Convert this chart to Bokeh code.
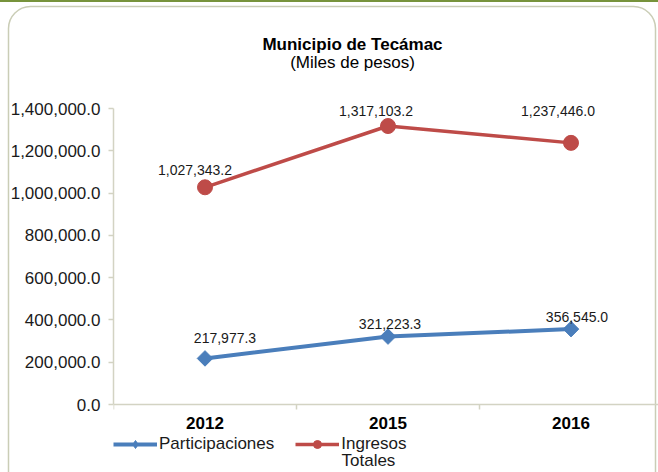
import numpy as np
from bokeh.plotting import figure
from bokeh.models import (Range1d, FixedTicker, NumeralTickFormatter, Legend, LegendItem,
                          Label, ColumnDataSource)
from bokeh.core.properties import value
from bokeh.embed import file_html
from bokeh.resources import INLINE

# ---- data ----
years = ["2012", "2015", "2016"]
participaciones = [217977.3, 321223.3, 356545.0]
ingresos_totales = [1027343.2, 1317103.2, 1237446.0]
y_ticks = [0, 200000, 400000, 600000, 800000, 1000000, 1200000, 1400000]

# ---- label nudges (screen px) ----
part_dx = [20, 2, 6]
part_dy = [-20, -13, -12]
ing_dx = [-10, -12, -13]
ing_dy = [-17, -15, -32]

FONT = "Liberation Sans"
TXT = "#1a1a1a"
BLUE = "#4A7EBB"
RED = "#BE4B48"
AXIS = "#d3d3c3"

W, H = 658, 472
ML = 113
axis_px = 404      # pixel row of the zero line
top_px = 108       # pixel row of the top tick
scale = y_ticks[-1] / (axis_px - top_px)
y0 = -(H - axis_px) * scale
y1 = y_ticks[-1] + top_px * scale
xs = list(range(len(years)))
cat_px = 183
x_end = -0.5 + (W - ML) / cat_px

bg = ("data:image/svg+xml;utf8,<svg xmlns='http://www.w3.org/2000/svg' width='658' height='472'>"
      "<rect x='0' y='0' width='658' height='2' fill='%2377933C'/>"
      "<rect x='8.5' y='6.5' width='647' height='500' rx='22' fill='white' "
      "stroke='%23cacdb6' stroke-width='1.5'/></svg>")

p = figure(width=W, height=H, output_backend="svg", toolbar_location=None,
           x_range=Range1d(-0.5, x_end), y_range=Range1d(y0, y1),
           min_border_left=ML, min_border_right=0, min_border_top=0, min_border_bottom=0,
           background_fill_color=None, border_fill_color=None,
           styles={"background-image": 'url("%s")' % bg,
                   "background-repeat": "no-repeat"})
p.outline_line_color = None
p.xgrid.visible = False
p.ygrid.visible = False

# axes
ya = p.yaxis[0]
ya.ticker = FixedTicker(ticks=y_ticks, minor_ticks=[])
ya.formatter = NumeralTickFormatter(format="0,0.0")
ya.bounds = (y_ticks[0], y_ticks[-1])
ya.axis_line_color = AXIS
ya.axis_line_width = 1.5
ya.major_tick_line_color = AXIS
ya.major_tick_line_width = 1.5
ya.major_tick_out = 5
ya.major_tick_in = 0
ya.major_label_standoff = 8
ya.major_label_text_font = FONT
ya.major_label_text_font_size = "17px"
ya.major_label_text_color = TXT

xa = p.xaxis[0]
xa.fixed_location = 0
xa.ticker = FixedTicker(ticks=xs, minor_ticks=[x + 0.5 for x in [-1] + xs])
xa.major_label_overrides = {i: y for i, y in zip(xs, years)}
xa.axis_line_color = AXIS
xa.axis_line_width = 1.5
xa.major_tick_line_color = None
xa.major_tick_out = 0
xa.major_tick_in = 0
xa.minor_tick_line_color = AXIS
xa.minor_tick_line_width = 1.5
xa.minor_tick_out = 5
xa.minor_tick_in = 0
xa.major_label_standoff = 7
xa.major_label_text_font = FONT
xa.major_label_text_font_size = "17px"
xa.major_label_text_font_style = "bold"
xa.major_label_text_color = "black"

# series
src_p = ColumnDataSource(dict(x=xs, y=participaciones,
                              t=["{:,.1f}".format(v) for v in participaciones],
                              dx=part_dx, dy=part_dy))
src_i = ColumnDataSource(dict(x=xs, y=ingresos_totales,
                              t=["{:,.1f}".format(v) for v in ingresos_totales],
                              dx=ing_dx, dy=ing_dy))

lp = p.line("x", "y", source=src_p, line_color=BLUE, line_width=4)
p.scatter("x", "y", source=src_p, marker="square", angle=0.785398, size=11,
          fill_color=BLUE, line_color=BLUE)
li = p.line("x", "y", source=src_i, line_color=RED, line_width=3.5)
p.scatter("x", "y", source=src_i, marker="circle", size=15,
          fill_color=RED, line_color=RED)

# smaller legend markers: a renderer with no drawable point, used only by the legend
nan_src = ColumnDataSource(dict(x=np.array([np.nan]), y=np.array([np.nan])))
lm_p = p.scatter("x", "y", source=nan_src, marker="diamond", size=12,
                 fill_color=BLUE, line_color=BLUE)
lm_i = p.scatter("x", "y", source=nan_src, marker="circle", size=10,
                 fill_color=RED, line_color=RED)

for src in (src_p, src_i):
    p.text("x", "y", text="t", source=src, x_offset="dx", y_offset="dy",
           text_align="center", text_baseline="alphabetic",
           text_font=value(FONT), text_font_size="14px", text_color=TXT)

# titles
p.add_layout(Label(x=239, y=H - 44, x_units="screen", y_units="screen",
                   text="Municipio de Tecámac", text_align="center",
                   text_baseline="alphabetic", text_font=FONT,
                   text_font_size="17px", text_font_style="bold", text_color="black"))
p.add_layout(Label(x=239, y=H - 62, x_units="screen", y_units="screen",
                   text="(Miles de pesos)", text_align="center",
                   text_baseline="alphabetic", text_font=FONT,
                   text_font_size="17px", text_color="black"))

# legend
legend = Legend(items=[LegendItem(label="Participaciones", renderers=[lp, lm_p]),
                       LegendItem(label="Ingresos", renderers=[li, lm_i])],
                orientation="horizontal", location=(0, 18),
                padding=0, margin=0, spacing=21, label_standoff=2,
                glyph_width=44, glyph_height=20, label_height=20,
                label_text_font=FONT, label_text_font_size="17px",
                label_text_color=TXT, border_line_color=None,
                background_fill_alpha=0)
p.add_layout(legend, "center")
p.add_layout(Label(x=228, y=H - 460, x_units="screen", y_units="screen",
                   text="Totales", text_align="left", text_baseline="alphabetic",
                   text_font=FONT, text_font_size="17px", text_color=TXT))

open("out.html", "w").write(file_html(p, INLINE))
